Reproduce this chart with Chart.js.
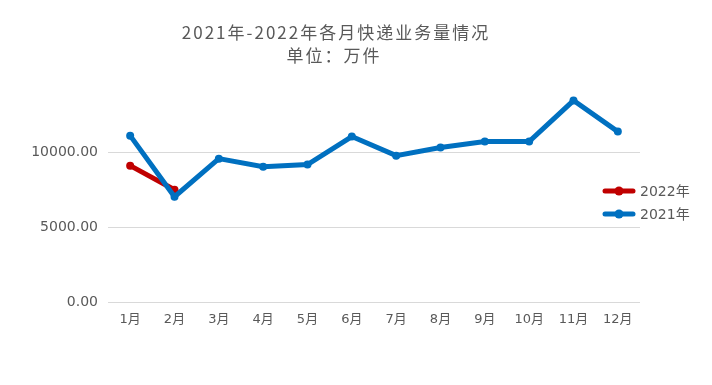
<!DOCTYPE html>
<html><head><meta charset="utf-8">
<script src="https://cdn.jsdelivr.net/npm/chart.js@4/dist/chart.umd.min.js"></script>
<style>html,body{margin:0;padding:0;background:#fff}#w{width:712px;height:385px}</style>
</head><body><div id="w"><canvas id="c" width="712" height="385"></canvas></div>
<script>
const titleLines = ['2021年-2022年各月快递业务量情况', '单位：万件'];
const months = ['1月','2月','3月','4月','5月','6月','7月','8月','9月','10月','11月','12月'];
const series2021 = [11140, 7050, 9600, 9060, 9200, 11080, 9800, 10340, 10740, 10740, 13490, 11410];
const series2022 = [9130, 7520];
const yTicks = [0, 5000, 10000];

function legendIcon(color){
  const cv = document.createElement('canvas');
  cv.width = 34; cv.height = 10;
  const g = cv.getContext('2d');
  g.strokeStyle = color; g.lineWidth = 5; g.lineCap = 'round';
  g.beginPath(); g.moveTo(3,5); g.lineTo(31,5); g.stroke();
  g.fillStyle = color; g.beginPath(); g.arc(17,5,4.5,0,Math.PI*2); g.fill();
  return cv;
}

const titlePlugin = {
  id:'titleDraw',
  afterDraw(chart){
    const ctx = chart.ctx;
    ctx.save();
    ctx.fillStyle = '#595959';
    ctx.font = '17px "Noto Sans CJK SC"';
    ctx.letterSpacing = '2px';
    ctx.textAlign = 'center';
    ctx.textBaseline = 'middle';
    ctx.fillText(titleLines[0], 336, 33);
    ctx.fillText(titleLines[1], 334, 56);
    ctx.restore();
  }
};

const legendPlugin = {
  id:'legendDraw',
  afterDraw(chart){
    const ctx = chart.ctx;
    const items = [[chart.data.datasets[1], 191], [chart.data.datasets[0], 214]];
    ctx.save();
    ctx.font = '14px "DejaVu Sans", "Noto Sans CJK SC"';
    ctx.fillStyle = '#595959';
    ctx.textBaseline = 'middle';
    for (const [ds, y] of items){
      ctx.drawImage(legendIcon(ds.borderColor), 602, y-5);
      ctx.fillText(ds.label, 640, y+1);
    }
    ctx.restore();
  }
};

new Chart(document.getElementById('c'), {
  type:'line',
  data:{
    labels: months,
    datasets:[
      {label:'2021年', data: series2021, borderColor:'#0070C0', backgroundColor:'#0070C0', borderWidth:5, pointRadius:4, pointBackgroundColor:'#0070C0', pointBorderWidth:0, tension:0},
      {label:'2022年', data: series2022, borderColor:'#C00000', backgroundColor:'#C00000', borderWidth:5, pointRadius:4, pointBackgroundColor:'#C00000', pointBorderWidth:0, tension:0}
    ]
  },
  options:{
    responsive:false, animation:false, devicePixelRatio:1,
    layout:{padding:{top:78, right:72, left:0, bottom:0}},
    plugins:{legend:{display:false}, title:{display:false}, tooltip:{enabled:false}},
    scales:{
      x:{
        offset:true,
        grid:{display:false, drawTicks:false},
        border:{display:false},
        ticks:{color:'#595959', font:{size:13, family:'"DejaVu Sans", "Noto Sans CJK SC"'}, padding:10, maxRotation:0, autoSkip:false},
        afterFit(s){ s.height = 83; }
      },
      y:{
        min:0, max:15000,
        afterBuildTicks(s){ s.ticks = yTicks.concat([15000]).map(v=>({value:v})); },
        grid:{drawTicks:false, color:(c)=> c.tick && c.tick.value===15000 ? 'rgba(0,0,0,0)' : '#d9d9d9', lineWidth:1},
        border:{display:false},
        ticks:{color:'#595959', font:{size:14, family:'"DejaVu Sans", "Noto Sans CJK SC"'}, padding:10,
          callback:(v)=> v===15000 ? '' : Number(v).toFixed(2)},
        afterFit(s){ s.width = 108; }
      }
    }
  },
  plugins:[titlePlugin, legendPlugin]
});
</script>
</body></html>
